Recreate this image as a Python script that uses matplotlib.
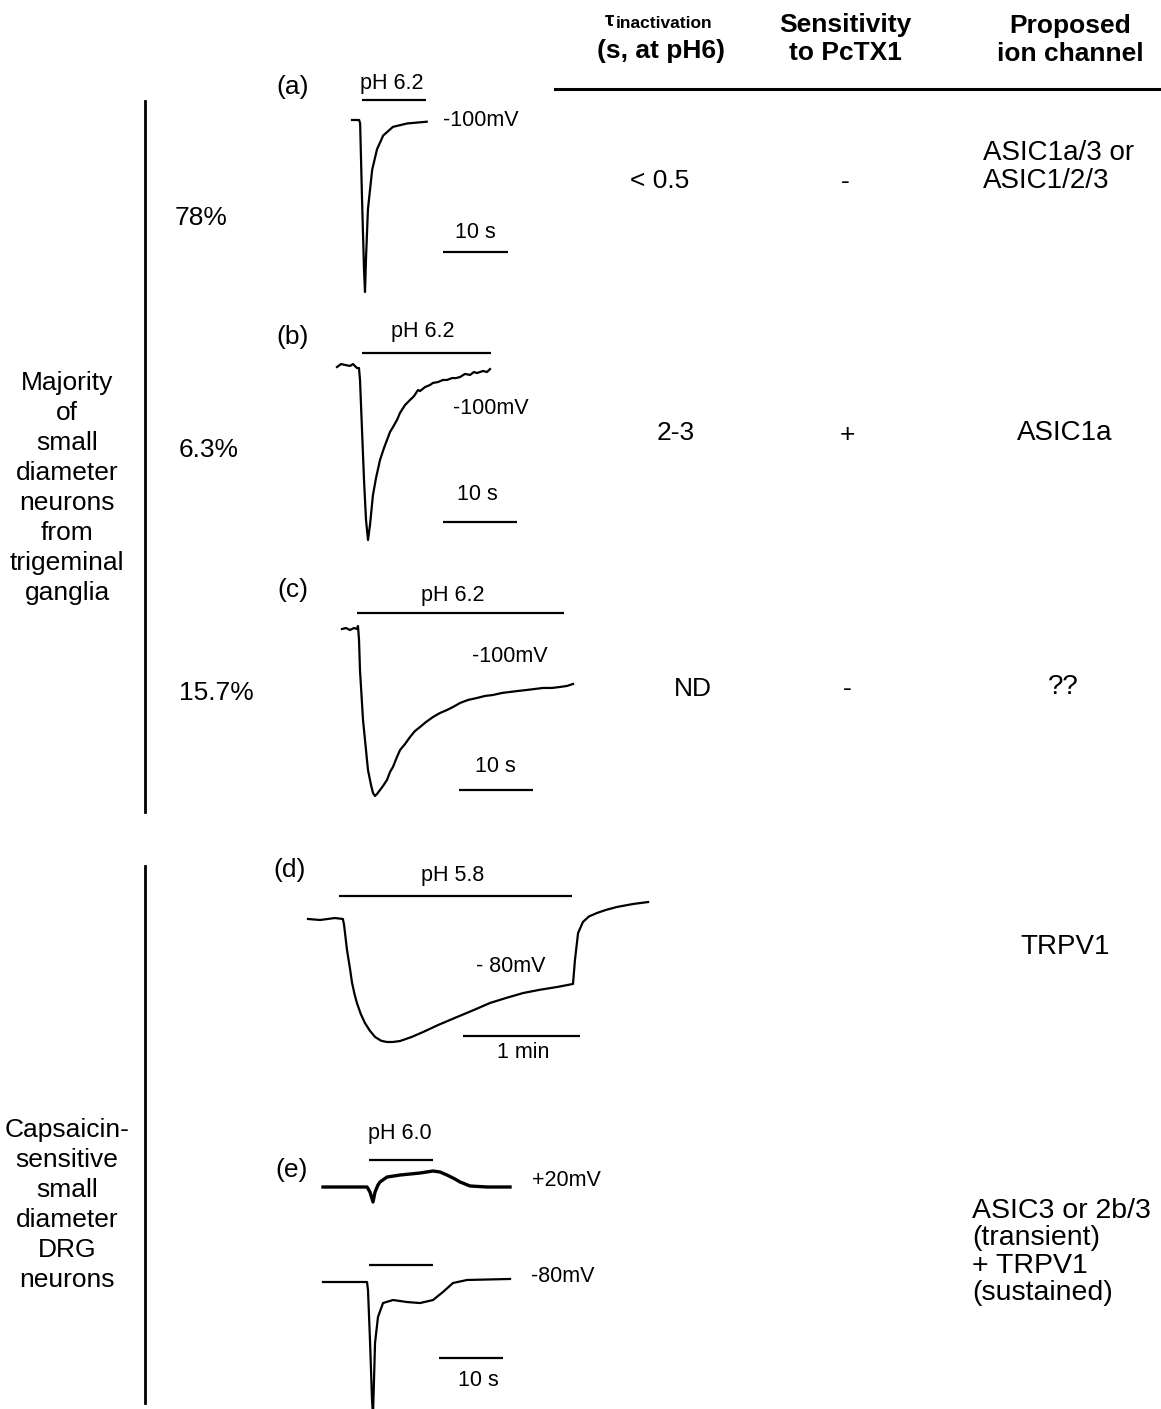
import matplotlib
matplotlib.use("Agg")
import matplotlib.pyplot as plt

plt.rcParams['font.family'] = ['Liberation Sans', 'DejaVu Sans']

W, H = 1161, 1409

# ---------------- data: current traces (time in s, current normalised to peak) -------------
t_a = [0, 1.1, 1.25, 1.55, 1.85, 2.0, 2.15, 2.45, 3.1, 3.85, 4.8, 6.3, 8.5, 11.5]
i_a = [0, 0, -0.02, -0.47, -0.87, -1.0, -0.81, -0.52, -0.29, -0.17, -0.09, -0.04, -0.02, -0.01]
ph_a = [1.54, 11.4]

t_b = [0, 0.54, 1.08, 1.76, 2.16, 2.70, 2.97, 3.11, 3.38, 3.65, 3.92, 4.19, 4.46, 4.86, 5.27,
       5.81, 6.35, 6.76, 7.16, 7.57, 8.11, 8.51, 9.19, 9.86, 10.41, 10.95, 11.22, 11.89, 12.57,
       12.97, 13.65, 14.32, 14.86, 15.54, 16.08, 16.62, 17.30, 17.97, 18.51, 18.92, 19.73,
       20.27, 20.68]
i_b = [0, 0.017, 0.012, 0.006, 0.017, -0.006, -0.006, -0.075, -0.364, -0.653, -0.884, -1.0,
       -0.913, -0.74, -0.642, -0.538, -0.468, -0.422, -0.376, -0.347, -0.306, -0.266, -0.22,
       -0.191, -0.168, -0.133, -0.139, -0.116, -0.104, -0.092, -0.087, -0.075, -0.075, -0.064,
       -0.064, -0.058, -0.040, -0.046, -0.029, -0.035, -0.023, -0.029, -0.012]
ph_b = [3.38, 20.8]

t_c = [0, 0.54, 1.08, 1.62, 2.03, 2.16, 2.30, 2.43, 2.84, 3.51, 3.92, 4.19, 4.46, 4.73, 5.14,
       5.54, 6.08, 6.49, 6.89, 7.43, 7.84, 8.51, 9.19, 9.86, 10.54, 11.35, 12.30, 13.24, 14.19,
       15.0, 15.95, 17.03, 18.24, 19.32, 20.41, 21.62, 22.70, 23.78, 25.0, 26.08, 27.16, 28.38,
       29.46, 30.41, 31.22]
i_c = [0, 0.006, -0.006, 0.006, 0, 0.018, -0.066, -0.246, -0.545, -0.844, -0.934, -0.982, -1.0,
       -0.988, -0.964, -0.940, -0.904, -0.856, -0.826, -0.766, -0.725, -0.689, -0.647, -0.611,
       -0.587, -0.557, -0.527, -0.503, -0.485, -0.467, -0.443, -0.425, -0.413, -0.401, -0.395,
       -0.383, -0.377, -0.371, -0.365, -0.359, -0.353, -0.353, -0.347, -0.341, -0.329]
ph_c = [2.03, 30.0]

t_d = [0, 6.2, 13.8, 17.9, 18.5, 20.0, 21.5, 22.6, 24.0, 25.1, 27.0, 29.2, 31.8, 34.4, 37.5,
       40.5, 43.5, 47.2, 53.0, 59.0, 67.0, 76.4, 85.0, 93.3, 102.0, 110.3, 119.0, 127.7, 135.9,
       136.9, 138.5, 141.0, 144.0, 148.2, 153.0, 158.5, 166.7, 174.4]
i_d = [0, -0.008, 0.008, 0, -0.049, -0.252, -0.40, -0.52, -0.62, -0.683, -0.77, -0.846, -0.91,
       -0.959, -0.99, -1.0, -1.0, -0.992, -0.96, -0.919, -0.86, -0.797, -0.74, -0.683, -0.64,
       -0.602, -0.575, -0.553, -0.528, -0.333, -0.114, -0.024, 0.02, 0.049, 0.075, 0.098, 0.122,
       0.138]
ph_d = [15.9, 135.4]

t_e_pos = [0, 6.88, 7.34, 7.81, 8.13, 8.59, 8.91, 10.0, 12.03, 13.59, 15.16, 17.19, 18.28, 19.38,
           20.63, 21.41, 22.97, 25.63, 29.22]
i_e_pos = [0, 0, -0.040, -0.119, -0.040, 0.016, 0.040, 0.079, 0.095, 0.103, 0.111, 0.127, 0.119,
           0.095, 0.063, 0.040, 0.008, 0, 0]
t_e_neg = [0, 6.88, 7.03, 7.34, 7.66, 7.81, 7.97, 8.13, 8.59, 9.38, 10.94, 13.13, 15.16, 17.19,
           18.75, 20.31, 22.5, 29.22]
i_e_neg = [0, 0, -0.063, -0.46, -0.937, -1.06, -0.778, -0.484, -0.278, -0.167, -0.143, -0.159,
           -0.167, -0.143, -0.079, -0.008, 0.016, 0.024]
ph_e = [7.19, 17.19]

# ---------------- table text ----------------
percentages = ["78%", "6.3%", "15.7%"]
tau_values = ["< 0.5", "2-3", "ND"]
pctx_values = ["-", "+", "-"]
channels = ["ASIC1a/3 or\nASIC1/2/3", "ASIC1a", "??", "TRPV1",
            "ASIC3 or 2b/3\n(transient)\n+ TRPV1\n(sustained)"]
group_labels = ["Majority\nof\nsmall\ndiameter\nneurons\nfrom\ntrigeminal\nganglia",
                "Capsaicin-\nsensitive\nsmall\ndiameter\nDRG\nneurons"]

fig = plt.figure(figsize=(W / 100, H / 100), dpi=100)
bg = fig.add_axes([0, 0, 1, 1])
bg.set_xlim(0, W)
bg.set_ylim(H, 0)
bg.axis('off')

LW = 1.6
TS = 15.5   # trace annotation size
BS = 19     # body text size


def panel(x0, y0, sx, sy, t_rng, i_rng):
    """axes where time t (s) maps to pixel x0 + t*sx and current i to y0 - i*sy"""
    left = x0 + t_rng[0] * sx
    right = x0 + t_rng[1] * sx
    top = y0 - i_rng[1] * sy
    bottom = y0 - i_rng[0] * sy
    ax = fig.add_axes([left / W, 1 - bottom / H, (right - left) / W, (bottom - top) / H])
    ax.set_xlim(*t_rng)
    ax.set_ylim(*i_rng)
    ax.axis('off')
    return ax


def bar(ax, x, y, lw=LW):
    ax.plot(x, [y, y], color='black', lw=lw, solid_capstyle='butt', clip_on=False)


# (a)
ax = panel(352, 120, 6.5, 172, (-2, 26), (-1.1, 0.3))
ax.plot(t_a, i_a, color='black', lw=LW, clip_on=False)
bar(ax, ph_a, 0.116)
bar(ax, [14.0, 24.0], -0.767)
# (b)
ax = panel(337, 367, 7.4, 173, (-2, 26), (-1.1, 0.3))
ax.plot(t_b, i_b, color='black', lw=LW, clip_on=False)
bar(ax, ph_b, 0.081)
bar(ax, [14.3, 24.3], -0.896)
# (c)
ax = panel(342, 629, 7.4, 167, (-2, 34), (-1.1, 0.3))
ax.plot(t_c, i_c, color='black', lw=LW, clip_on=False)
bar(ax, ph_c, 0.096)
bar(ax, [15.8, 25.8], -0.964)
# (d)
ax = panel(308, 919, 1.95, 123, (-5, 180), (-1.1, 0.3))
ax.plot(t_d, i_d, color='black', lw=LW, clip_on=False)
bar(ax, ph_d, 0.187)
bar(ax, [79.5, 139.5], -0.951)
# (e) +20 mV
ax = panel(323, 1187, 6.4, 126, (-2, 32), (-0.3, 0.3))
ax.plot(t_e_pos, i_e_pos, color='black', lw=2.4, clip_on=False)
bar(ax, ph_e, 0.214)
# (e) -80 mV
ax = panel(323, 1282, 6.4, 126, (-2, 32), (-1.1, 0.3))
ax.plot(t_e_neg, i_e_neg, color='black', lw=LW, clip_on=False)
bar(ax, ph_e, 0.135)
bar(ax, [18.1, 28.1], -0.603)

# trace annotations
ann = [("(a)", 293, 87, BS), ("pH 6.2", 392, 84, TS), ("-100mV", 481, 121, TS), ("10 s", 475, 233, TS),
       ("(b)", 293, 337, BS), ("pH 6.2", 423, 332, TS), ("-100mV", 491, 409, TS), ("10 s", 477, 495, TS),
       ("(c)", 293, 590, BS), ("pH 6.2", 453, 596, TS), ("-100mV", 510, 656, TS), ("10 s", 495, 766, TS),
       ("(d)", 290, 870, BS), ("pH 5.8", 453, 875, TS), ("- 80mV", 511, 967, TS), ("1 min", 523, 1053, TS),
       ("(e)", 292, 1170, BS), ("pH 6.0", 400, 1133, TS), ("+20mV", 566, 1181, TS), ("-80mV", 563, 1277, TS),
       ("10 s", 478, 1380, TS)]
for s, x, y, fs in ann:
    bg.text(x, y, s, ha='center', va='center', fontsize=fs)

# left group brackets
bg.plot([145, 145], [101, 812], color='black', lw=2)
bg.plot([145, 145], [866, 1403], color='black', lw=2)
bg.text(67, 488, group_labels[0], ha='center', va='center', fontsize=BS, linespacing=1.32)
bg.text(67, 1205, group_labels[1], ha='center', va='center', fontsize=BS, linespacing=1.32)

for s, x, y in zip(percentages, [201, 209, 216], [218, 450, 693]):
    bg.text(x, y, s, ha='center', va='center', fontsize=BS)

# table header
bg.plot([555, 1161], [89, 89], color='black', lw=2.2)
bg.text(605, 20, "τ", ha='left', va='center', fontsize=15, fontweight='bold')
bg.text(616, 24, "inactivation", ha='left', va='center', fontsize=12.5, fontweight='bold')
bg.text(661, 51, "(s, at pH6)", ha='center', va='center', fontsize=BS, fontweight='bold')
bg.text(845, 39, "Sensitivity\nto PcTX1", ha='center', va='center', fontsize=BS,
        fontweight='bold', linespacing=1.25)
bg.text(1070, 40, "Proposed\nion channel", ha='center', va='center', fontsize=BS,
        fontweight='bold', linespacing=1.25)

for s, x, y in zip(tau_values, [660, 676, 693], [181, 433, 689]):
    bg.text(x, y, s, ha='center', va='center', fontsize=BS)
for s, x, y in zip(pctx_values, [845, 847, 847], [182, 435, 689]):
    bg.text(x, y, s, ha='center', va='center', fontsize=BS)

RS = 20
bg.text(983, 167, channels[0], ha='left', va='center', fontsize=RS, linespacing=1.15)
bg.text(1065, 433, channels[1], ha='center', va='center', fontsize=RS)
bg.text(1063, 687, channels[2], ha='center', va='center', fontsize=RS)
bg.text(1065, 947, channels[3], ha='center', va='center', fontsize=RS)
bg.text(972, 1252, channels[4], ha='left', va='center', fontsize=20.5, linespacing=1.08)

fig.savefig("out.png", dpi=100, facecolor='white')
